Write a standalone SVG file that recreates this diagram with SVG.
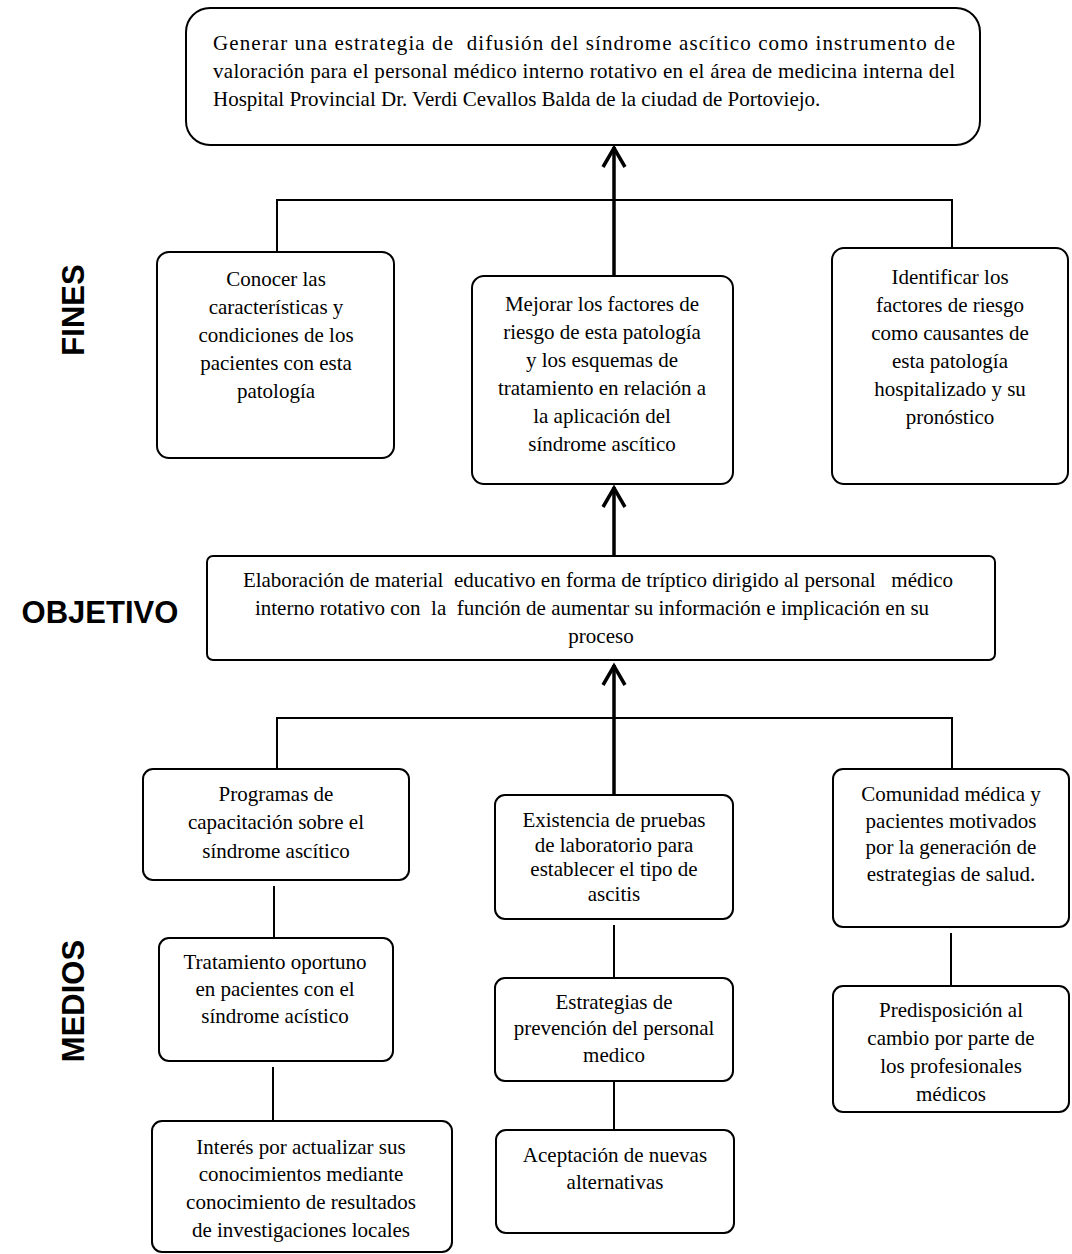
<svg xmlns="http://www.w3.org/2000/svg" width="1072" height="1254" viewBox="0 0 1072 1254">
<defs>
<style>
.bx{fill:#fff;stroke:#000;stroke-width:2}
.t{font-family:"Liberation Serif","Times New Roman",serif;font-size:21px;fill:#000;text-anchor:middle;white-space:pre}
.tl{font-family:"Liberation Serif","Times New Roman",serif;font-size:21px;fill:#000;white-space:pre}
.lab{font-family:"Liberation Sans",Arial,sans-serif;font-size:31px;font-weight:bold;fill:#000;text-anchor:middle}
.ln{fill:none;stroke:#000;stroke-width:2}
.th{fill:none;stroke:#000;stroke-width:3.5}
.ah{fill:none;stroke:#000;stroke-width:3.5;stroke-linecap:butt;stroke-linejoin:miter}
</style>
</defs>
<rect width="1072" height="1254" fill="#fff"/>

<g id="connectors">
<path class="ln" d="M277 200H952M277 199V252M952 199V248"/>
<path class="th" d="M614 276V147"/>
<path class="ah" d="M603 167L614 148L625 167"/>
<path class="th" d="M614 556V487"/>
<path class="ah" d="M603 507L614 488L625 507"/>
<path class="ln" d="M277 718H952M277 717V769M952 717V769"/>
<path class="th" d="M614 795V665"/>
<path class="ah" d="M603 685L614 666L625 685"/>
<path class="ln" d="M274 886V937M273 1067V1120M614 925V977M614 1081V1130M951 933V986"/>
</g>

<g id="label-fines"><text class="lab" transform="translate(84,310) rotate(-90)">FINES</text></g>
<g id="label-objetivo"><text class="lab" x="100" y="623">OBJETIVO</text></g>
<g id="label-medios"><text class="lab" transform="translate(84,1001) rotate(-90)">MEDIOS</text></g>

<g id="n-top">
<rect class="bx" x="186" y="8" width="794" height="137" rx="24"/>
<text class="tl" x="213" y="50" textLength="742" lengthAdjust="spacing">Generar una estrategia de  difusión del síndrome ascítico como instrumento de</text>
<text class="tl" x="213" y="78" textLength="742" lengthAdjust="spacing">valoración para el personal médico interno rotativo en el área de medicina interna del</text>
<text class="tl" x="213" y="106">Hospital Provincial Dr. Verdi Cevallos Balda de la ciudad de Portoviejo.</text>
</g>

<g id="n-fin1">
<rect class="bx" x="157" y="252" width="237" height="206" rx="12"/>
<text class="t" x="276" y="286">Conocer las</text>
<text class="t" x="276" y="314">características y</text>
<text class="t" x="276" y="342">condiciones de los</text>
<text class="t" x="276" y="370">pacientes con esta</text>
<text class="t" x="276" y="398">patología</text>
</g>

<g id="n-fin2">
<rect class="bx" x="472" y="276" width="261" height="208" rx="12"/>
<text class="t" x="602" y="311">Mejorar los factores de</text>
<text class="t" x="602" y="339">riesgo de esta patología</text>
<text class="t" x="602" y="367">y los esquemas de</text>
<text class="t" x="602" y="395">tratamiento en relación a</text>
<text class="t" x="602" y="423">la aplicación del</text>
<text class="t" x="602" y="451">síndrome ascítico</text>
</g>

<g id="n-fin3">
<rect class="bx" x="832" y="248" width="236" height="236" rx="12"/>
<text class="t" x="950" y="284">Identificar los</text>
<text class="t" x="950" y="312">factores de riesgo</text>
<text class="t" x="950" y="340">como causantes de</text>
<text class="t" x="950" y="368">esta patología</text>
<text class="t" x="950" y="396">hospitalizado y su</text>
<text class="t" x="950" y="424">pronóstico</text>
</g>

<g id="n-objetivo">
<rect class="bx" x="207" y="556" width="788" height="104" rx="6"/>
<text class="t" x="598" y="587">Elaboración de material  educativo en forma de tríptico dirigido al personal   médico</text>
<text class="t" x="592" y="615">interno rotativo con  la  función de aumentar su información e implicación en su</text>
<text class="t" x="601" y="643">proceso</text>
</g>

<g id="n-med1">
<rect class="bx" x="143" y="769" width="266" height="111" rx="10"/>
<text class="t" x="276" y="801">Programas de</text>
<text class="t" x="276" y="829">capacitación sobre el</text>
<text class="t" x="276" y="858">síndrome ascítico</text>
</g>

<g id="n-med2">
<rect class="bx" x="159" y="938" width="234" height="123" rx="10"/>
<text class="t" x="275" y="969">Tratamiento oportuno</text>
<text class="t" x="275" y="996">en pacientes con el</text>
<text class="t" x="275" y="1023">síndrome acístico</text>
</g>

<g id="n-med3">
<rect class="bx" x="152" y="1121" width="300" height="131" rx="10"/>
<text class="t" x="301" y="1154">Interés por actualizar sus</text>
<text class="t" x="301" y="1181">conocimientos mediante</text>
<text class="t" x="301" y="1209">conocimiento de resultados</text>
<text class="t" x="301" y="1237">de investigaciones locales</text>
</g>

<g id="n-med4">
<rect class="bx" x="495" y="795" width="238" height="124" rx="10"/>
<text class="t" x="614" y="827">Existencia de pruebas</text>
<text class="t" x="614" y="852">de laboratorio para</text>
<text class="t" x="614" y="876">establecer el tipo de</text>
<text class="t" x="614" y="901">ascitis</text>
</g>

<g id="n-med5">
<rect class="bx" x="495" y="978" width="238" height="103" rx="10"/>
<text class="t" x="614" y="1009">Estrategias de</text>
<text class="t" x="614" y="1035">prevención del personal</text>
<text class="t" x="614" y="1062">medico</text>
</g>

<g id="n-med6">
<rect class="bx" x="496" y="1130" width="238" height="103" rx="10"/>
<text class="t" x="615" y="1162">Aceptación de nuevas</text>
<text class="t" x="615" y="1189">alternativas</text>
</g>

<g id="n-med7">
<rect class="bx" x="833" y="769" width="236" height="158" rx="10"/>
<text class="t" x="951" y="801">Comunidad médica y</text>
<text class="t" x="951" y="828">pacientes motivados</text>
<text class="t" x="951" y="854">por la generación de</text>
<text class="t" x="951" y="881">estrategias de salud.</text>
</g>

<g id="n-med8">
<rect class="bx" x="833" y="986" width="236" height="126" rx="10"/>
<text class="t" x="951" y="1017">Predisposición al</text>
<text class="t" x="951" y="1045">cambio por parte de</text>
<text class="t" x="951" y="1073">los profesionales</text>
<text class="t" x="951" y="1101">médicos</text>
</g>
</svg>
